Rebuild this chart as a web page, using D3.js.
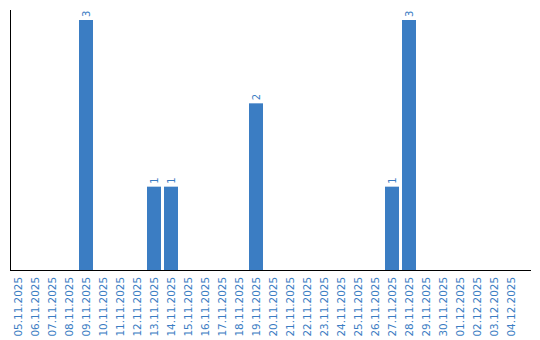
<!DOCTYPE html>
<html><head><meta charset="utf-8">
<script src="https://cdn.jsdelivr.net/npm/d3@7"></script>
<style>body{margin:0;background:#fff}svg{display:block}</style>
</head><body>
<script>
const categories = ["05.11.2025","06.11.2025","07.11.2025","08.11.2025","09.11.2025","10.11.2025","11.11.2025","12.11.2025","13.11.2025","14.11.2025","15.11.2025","16.11.2025","17.11.2025","18.11.2025","19.11.2025","20.11.2025","21.11.2025","22.11.2025","23.11.2025","24.11.2025","25.11.2025","26.11.2025","27.11.2025","28.11.2025","29.11.2025","30.11.2025","01.12.2025","02.12.2025","03.12.2025","04.12.2025"];
const values = [0,0,0,0,3,0,0,0,1,1,0,0,0,0,2,0,0,0,0,0,0,0,1,3,0,0,0,0,0,0];
const yDomain = [0, 3];

const W = 540, H = 340;
const blue = "#3b7dc3";
const svg = d3.select("body").append("svg").attr("width", W).attr("height", H);

const x = d3.scaleBand().domain(categories).range([11, 518]).paddingInner(3/17).paddingOuter(0);
const y = d3.scaleLinear().domain(yDomain).range([270, 20]);

const data = categories.map((c, i) => ({c, v: values[i]}));

svg.selectAll("rect.bar").data(data.filter(d => d.v > 0)).join("rect")
  .attr("class", "bar")
  .attr("x", d => x(d.c)).attr("width", x.bandwidth())
  .attr("y", d => y(d.v)).attr("height", d => y(0) - y(d.v))
  .attr("fill", blue);

svg.selectAll("text.val").data(data.filter(d => d.v > 0)).join("text")
  .attr("class", "val")
  .attr("transform", d => `translate(${x(d.c) + x.bandwidth()/2 + 3.5},${y(d.v) - 3}) rotate(-90)`)
  .attr("text-anchor", "start")
  .attr("font-family", "DejaVu Sans, Verdana, sans-serif")
  .attr("font-size", 10)
  .attr("fill", blue)
  .text(d => d.v);

// axes lines
svg.append("line").attr("x1", 10.5).attr("x2", 10.5).attr("y1", 10).attr("y2", 270.5).attr("stroke", "#000");
svg.append("line").attr("x1", 10).attr("x2", 531).attr("y1", 270.5).attr("y2", 270.5).attr("stroke", "#000");

// x tick labels
const xAxis = d3.axisBottom(x).tickSize(0).tickPadding(0);
const gx = svg.append("g").attr("transform", "translate(0,270)").call(xAxis);
gx.select(".domain").remove();
gx.selectAll("text")
  .attr("font-family", "DejaVu Sans, Verdana, sans-serif")
  .attr("font-size", 10.4)
  .attr("fill", blue)
  .attr("text-anchor", "end")
  .attr("dy", null)
  .attr("y", 0)
  .attr("transform", "translate(4,7) rotate(-90)")
  .attr("x", 0);
</script>
</body></html>
